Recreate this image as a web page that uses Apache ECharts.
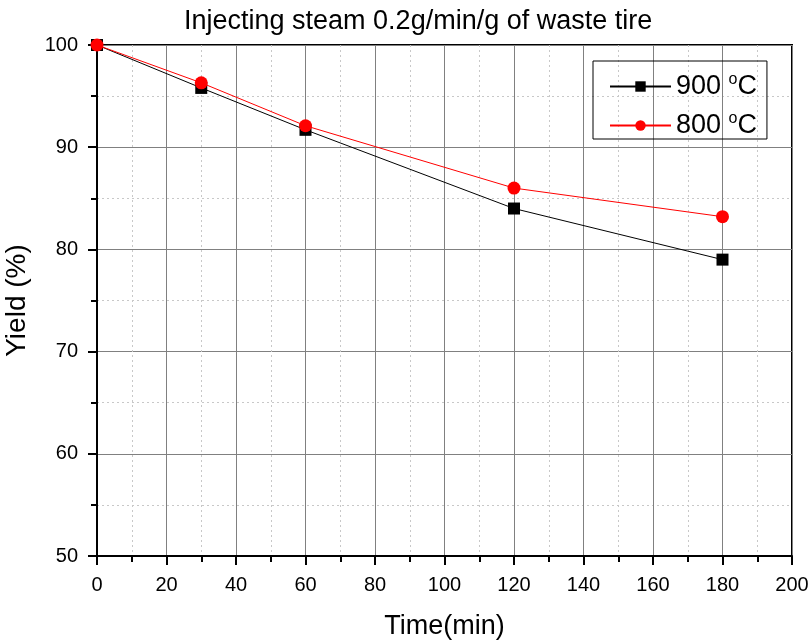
<!DOCTYPE html>
<html>
<head>
<meta charset="utf-8">
<script src="https://cdn.jsdelivr.net/npm/echarts@6/dist/echarts.min.js"></script>
<style>html,body{margin:0;padding:0;background:#fff}#c{width:812px;height:641px}</style>
</head>
<body>
<div id="c"></div>
<script>
var times = [0, 30, 60, 120, 180];
var yield900 = [100, 95.8, 91.7, 84.0, 79.0];
var yield800 = [100, 96.3, 92.1, 86.0, 83.2];
var seriesNames = ['900 °C', '800 °C'];

function pairs(xs, ys) { return xs.map(function (x, i) { return [x, ys[i]]; }); }

var chart = echarts.init(document.getElementById('c'));
var font = 'Liberation Sans, Arial, sans-serif';
chart.setOption({
  animation: false,
  backgroundColor: '#fff',
  title: {
    text: 'Injecting steam 0.2g/min/g of waste tire',
    left: 179, top: 3,
    textStyle: { fontFamily: font, fontSize: 27, fontWeight: 'normal', color: '#000' }
  },
  grid: { left: 97, right: 20, top: 45, bottom: 85, outerBoundsMode: 'none', containLabel: false, show: true, borderColor: '#000', borderWidth: 2, backgroundColor: 'transparent' },
  legend: {
    left: 593, top: 61, orient: 'vertical',
    borderColor: '#000', borderWidth: 1, padding: [11, 10, 0, 16],
    itemWidth: 61, itemHeight: 13, itemGap: 11,
    data: seriesNames,
    formatter: function (n) { return n.replace(' °C', ' {sup|o}C'); },
    textStyle: {
      fontFamily: font, fontSize: 27, color: '#000', lineHeight: 26,
      rich: { sup: { fontFamily: font, fontSize: 16, color: '#000', padding: [0, 0, 13, 0] } }
    }
  },
  xAxis: {
    type: 'value', min: 0, max: 200, interval: 20,
    name: 'Time(min)', nameLocation: 'middle', nameGap: 57,
    nameTextStyle: { fontFamily: font, fontSize: 27, color: '#000' },
    axisLine: { show: true, onZero: false, lineStyle: { color: '#000', width: 2 } },
    axisTick: { show: true, inside: false, length: 9, lineStyle: { color: '#000', width: 2 } },
    minorTick: { show: true, splitNumber: 2, length: 6, lineStyle: { color: '#000', width: 2 } },
    axisLabel: { fontFamily: font, fontSize: 20, color: '#000', margin: 19 },
    splitLine: { show: true, lineStyle: { color: '#808080', width: 1 } },
    minorSplitLine: { show: true, lineStyle: { color: '#c8c8c8', width: 1, type: [2, 3] } }
  },
  yAxis: {
    type: 'value', min: 50, max: 100, interval: 10,
    name: 'Yield (%)', nameLocation: 'middle', nameGap: 66, nameRotate: 90,
    nameTextStyle: { fontFamily: font, fontSize: 28, color: '#000' },
    axisLine: { show: true, onZero: false, lineStyle: { color: '#000', width: 2 } },
    axisTick: { show: true, inside: false, length: 9, lineStyle: { color: '#000', width: 2 } },
    minorTick: { show: true, splitNumber: 2, length: 6, lineStyle: { color: '#000', width: 2 } },
    axisLabel: { fontFamily: font, fontSize: 20, color: '#000', margin: 19 },
    splitLine: { show: true, lineStyle: { color: '#808080', width: 1 } },
    minorSplitLine: { show: true, lineStyle: { color: '#c8c8c8', width: 1, type: [2, 3] } }
  },
  series: [
    {
      name: seriesNames[0], type: 'line', data: pairs(times, yield900),
      symbol: 'rect', symbolSize: 12,
      lineStyle: { color: '#000', width: 1 }, itemStyle: { color: '#000' }, z: 3
    },
    {
      name: seriesNames[1], type: 'line', data: pairs(times, yield800),
      symbol: 'circle', symbolSize: 13,
      lineStyle: { color: '#ff0000', width: 1 }, itemStyle: { color: '#ff0000' }, z: 4
    }
  ]
});
</script>
</body>
</html>
